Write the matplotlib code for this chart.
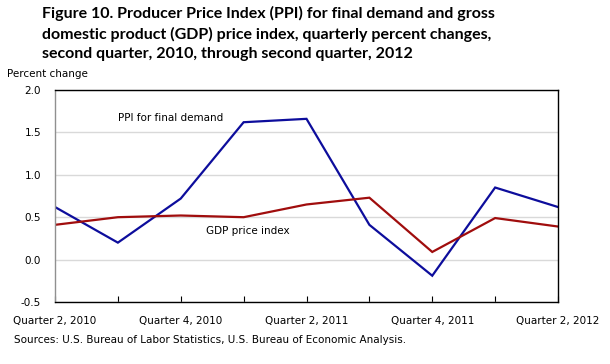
import matplotlib
matplotlib.use("Agg")
import matplotlib.pyplot as plt

quarters = ["Quarter 2, 2010", "Quarter 3, 2010", "Quarter 4, 2010", "Quarter 1, 2011",
            "Quarter 2, 2011", "Quarter 3, 2011", "Quarter 4, 2011", "Quarter 1, 2012",
            "Quarter 2, 2012"]
ppi = [0.62, 0.20, 0.72, 1.62, 1.66, 0.41, -0.19, 0.85, 0.62]
gdp = [0.41, 0.50, 0.52, 0.50, 0.65, 0.73, 0.09, 0.49, 0.39]
yticks = [-0.5, 0.0, 0.5, 1.0, 1.5, 2.0]

W, H = 610, 364
fig = plt.figure(figsize=(W / 100, H / 100), dpi=100)
ax = fig.add_axes([55 / W, 1 - 302 / H, (558 - 55) / W, (302 - 90) / H])

x = list(range(len(quarters)))
ax.plot(x, ppi, color="#0d0d9c", lw=1.6, solid_joinstyle="miter")
ax.plot(x, gdp, color="#a00d0d", lw=1.6, solid_joinstyle="miter")

ax.set_xlim(0, len(quarters) - 1)
ax.set_ylim(-0.5, 2.0)
ax.set_yticks(yticks)
ax.set_yticklabels([f"{v:.1f}" for v in yticks], fontsize=7.5)
ax.tick_params(axis="y", length=0, pad=10)
ax.set_xticks(x)
ax.set_xticklabels([q if i % 2 == 0 else "" for i, q in enumerate(quarters)], fontsize=7.5)
ax.tick_params(axis="x", which="major", bottom=True, length=4.5, width=0.8,
               color="black", direction="in", pad=10)
ax.grid(axis="y", color="#d9d9d9", lw=1)
ax.set_axisbelow(True)
for s in ["top", "right", "bottom"]:
    ax.spines[s].set_color("black")
    ax.spines[s].set_linewidth(1)
ax.spines["left"].set_color("#909090")
ax.spines["left"].set_linewidth(1)

ax.text(1, 1.67, "PPI for final demand", fontsize=7.5, va="center", ha="left")
ax.text(2.4, 0.34, "GDP price index", fontsize=7.5, va="center", ha="left")

fig.text(42 / W, 1 - 6 / H, "Figure 10. Producer Price Index (PPI) for final demand and gross\n"
         "domestic product (GDP) price index, quarterly percent changes,\n"
         "second quarter, 2010, through second quarter, 2012",
         fontsize=11.5, family="Lato", fontweight="bold", va="top", ha="left", linespacing=1.45)
fig.text(7 / W, 1 - 74 / H, "Percent change", fontsize=7.5, va="center", ha="left")
fig.text(14 / W, 1 - 340 / H, "Sources: U.S. Bureau of Labor Statistics, U.S. Bureau of Economic Analysis.",
         fontsize=7.5, va="center", ha="left")

fig.savefig("out.png", dpi=100)
